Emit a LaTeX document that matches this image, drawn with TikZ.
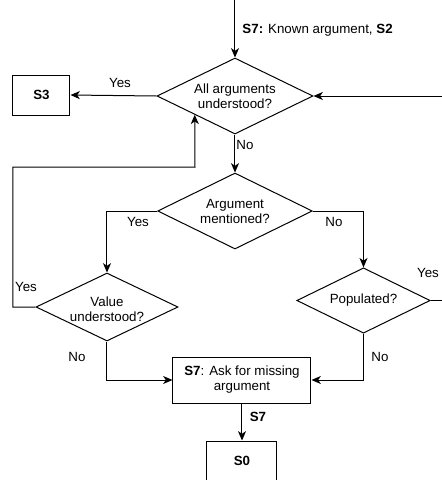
\documentclass[tikz,border=0pt]{standalone}
\usepackage{fontspec}
\setmainfont{Liberation Sans}
\usetikzlibrary{shapes.geometric,arrows.meta,calc}
\begin{document}
\begin{tikzpicture}[x=0.75pt,y=-0.75pt,
  font=\fontsize{10}{11.25}\selectfont,
  line width=0.75pt,
  arr/.style={-{Stealth[length=7pt,width=6pt,inset=2pt]}},
  dia/.style={draw,shape=diamond,inner sep=0pt},
  boxnode/.style={draw,rectangle,inner sep=0pt,align=center},
  lbl/.style={inner sep=0pt,align=center}]
\useasboundingbox (0,0) rectangle (442,480);
\clip (0,0) rectangle (442,480);
% decisions
\node[dia,minimum width=117pt,minimum height=57pt,
  label={[lbl]center:All arguments\\understood?}] (d1) at (235,96) {};
\node[dia,minimum width=116pt,minimum height=57pt,
  label={[lbl]center:Argument\\mentioned?}] (d2) at (235,211) {};
\node[dia,minimum width=106.5pt,minimum height=51pt,
  label={[lbl,yshift=-1.5pt]center:Value\\understood?}] (dv) at (107,307) {};
\node[dia,minimum width=100pt,minimum height=49pt,
  label={[lbl]center:Populated?}] (dp) at (363.5,300.5) {};
% boxes
\node[boxnode,minimum width=42.75pt,minimum height=30pt] (s3) at (41.5,95) {\textbf{S3}};
\node[boxnode,minimum width=103.5pt,minimum height=34.5pt] (s7) at (242,380) {\textbf{S7}: Ask for missing\\argument};
\node[boxnode,minimum width=52.5pt,minimum height=30pt] (s0) at (242,461) {\textbf{S0}};
% free ends
\coordinate (topin) at (235,0);
\coordinate (rightin) at (442,96);
\coordinate (rightout) at (442,300.5);
\coordinate (loopa) at (13,307);
\coordinate (loopb) at (13,167);
\coordinate (loopc) at (195,167);
\coordinate (d1hit) at ($(d1.west)!0.487!(d1.south)$);
% connectors
\draw[arr] (topin) -- (d1.north);
\draw[arr] (rightin) -- (d1.east);
\draw[arr] (d1.west) -- (s3.east);
\draw[arr] (d1.south) -- (d2.north);
\draw[arr] (d2.west) -| (dv.north);
\draw[arr] (d2.east) -| (dp.north);
\draw[arr] (dv.west) -- (loopa) -- (loopb) -- (loopc) -- (d1hit);
\draw (dp.east) -- (rightout);
\draw[arr] (dv.south) |- (s7.west);
\draw[arr] (dp.south) |- (s7.east);
\draw[arr] (s7.south) -- (s0.north);
% labels
\node[lbl,anchor=west] (tl) at (242,30) {\textbf{S7:} Known argument, \textbf{S2}};
\node[lbl] (y1) at (120,83) {Yes};
\node[lbl] (n1) at (245,145) {No};
\node[lbl] (y2) at (138,222) {Yes};
\node[lbl] (n2) at (334,222) {No};
\node[lbl] (y3) at (26,287) {Yes};
\node[lbl] (y4) at (428,273) {Yes};
\node[lbl] (n3) at (77,357) {No};
\node[lbl] (n4) at (380,357) {No};
\node[lbl] (l7) at (258,417) {\textbf{S7}};
\end{tikzpicture}
\end{document}
